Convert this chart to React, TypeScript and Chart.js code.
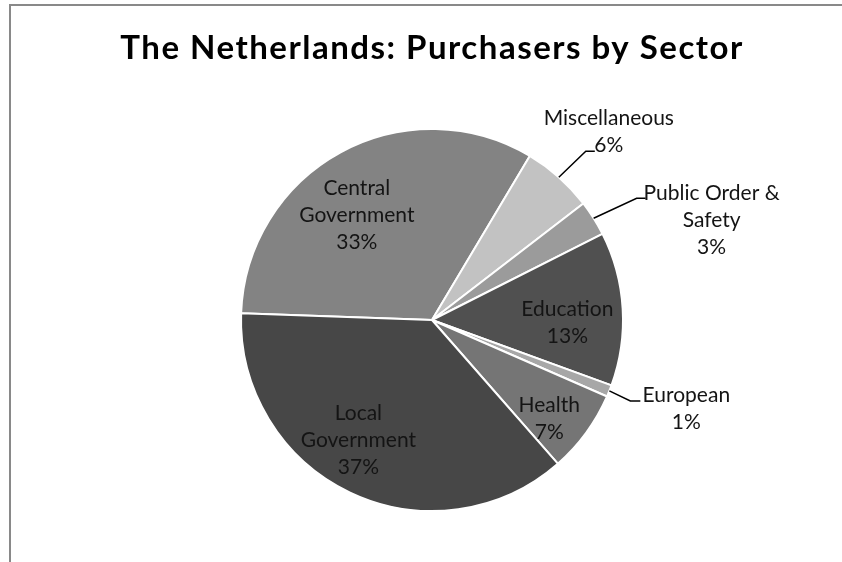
import React, { useEffect, useRef } from "react";
import { Chart, registerables } from "chart.js";

Chart.register(...registerables);

const TITLE = "The Netherlands: Purchasers by Sector";
const categories: string[][] = [
  ["Central", "Government"],
  ["Miscellaneous"],
  ["Public Order &", "Safety"],
  ["Education"],
  ["European"],
  ["Health"],
  ["Local", "Government"],
];
const shares = [33, 6, 3, 13, 1, 7, 37];
const sliceColors = ["#838383", "#c2c2c2", "#9b9b9b", "#505050", "#a7a7a7", "#757575", "#474747"];

// label placement styles (inside: radial fraction + nudge; outside: leader line geometry)
type Place =
  | { kind: "in"; r: number; dx: number; dy: number }
  | { kind: "out"; elbow: [number, number]; tail: number; text: [number, number]; lineStep: number };
const placements: Place[] = [
  { kind: "in", r: 0.68, dx: -13, dy: 9 },
  { kind: "out", elbow: [27, -26], tail: 9, text: [14, -33], lineStep: 27 },
  { kind: "out", elbow: [43, -20], tail: 9, text: [66, -5], lineStep: 27 },
  { kind: "in", r: 0.71, dx: 0, dy: 11 },
  { kind: "out", elbow: [21, 10], tail: 10, text: [46, -6], lineStep: 27 },
  { kind: "in", r: 0.78, dx: -3, dy: 11 },
  { kind: "in", r: 0.74, dx: -13, dy: -7 },
];

const LABEL_FONT = "21px Lato";
const TITLE_FONT = "bold 33px Lato";

const decorPlugin = {
  id: "decor",
  beforeDraw(chart: any) {
    const ctx = chart.ctx;
    ctx.save();
    ctx.fillStyle = "#ffffff";
    ctx.fillRect(0, 0, chart.width, chart.height);
    ctx.strokeStyle = "#898989";
    ctx.lineWidth = 2;
    ctx.beginPath();
    ctx.moveTo(10, chart.height);
    ctx.lineTo(10, 5);
    ctx.lineTo(chart.width, 5);
    ctx.stroke();
    ctx.restore();
  },
  afterDraw(chart: any) {
    const ctx = chart.ctx;
    ctx.save();
    // title
    ctx.fillStyle = "#000000";
    ctx.font = TITLE_FONT;
    ctx.textAlign = "center";
    ctx.textBaseline = "alphabetic";
    try {
      (ctx as any).letterSpacing = "1.5px";
    } catch (e) {}
    ctx.fillText(TITLE, 432, 59);
    try {
      (ctx as any).letterSpacing = "0px";
    } catch (e) {}

    const meta = chart.getDatasetMeta(0);
    const total = shares.reduce((a, b) => a + b, 0);
    ctx.font = LABEL_FONT;
    ctx.textBaseline = "middle";
    meta.data.forEach((arc: any, i: number) => {
      const p = arc.getProps(["x", "y", "startAngle", "endAngle", "outerRadius"], true);
      const mid = (p.startAngle + p.endAngle) / 2;
      const pct = Math.round((shares[i] / total) * 100) + "%";
      const lines = [...categories[i], pct];
      const pl = placements[i];
      ctx.fillStyle = "#141414";
      ctx.textAlign = "center";
      if (pl.kind === "in") {
        const cx = p.x + Math.cos(mid) * p.outerRadius * pl.r + pl.dx;
        const cy = p.y + Math.sin(mid) * p.outerRadius * pl.r + pl.dy;
        const step = 27;
        const y0 = cy - ((lines.length - 1) * step) / 2;
        lines.forEach((t, k) => ctx.fillText(t, cx, y0 + k * step));
      } else {
        const ex = p.x + Math.cos(mid) * p.outerRadius;
        const ey = p.y + Math.sin(mid) * p.outerRadius;
        const bx = ex + pl.elbow[0];
        const by = ey + pl.elbow[1];
        const tx = bx + pl.tail;
        ctx.strokeStyle = "#000000";
        ctx.lineWidth = 1.5;
        ctx.beginPath();
        ctx.moveTo(ex, ey);
        ctx.lineTo(bx, by);
        ctx.lineTo(tx, by);
        ctx.stroke();
        const cx = tx + pl.text[0];
        const y0 = by + pl.text[1];
        lines.forEach((t, k) => ctx.fillText(t, cx, y0 + k * pl.lineStep));
      }
    });
    ctx.restore();
  },
};

export default function App() {
  const ref = useRef<HTMLCanvasElement | null>(null);
  useEffect(() => {
    if (!ref.current) return;
    const chart = new Chart(ref.current, {
      type: "pie",
      data: {
        labels: categories.map((c) => c.join(" ")),
        datasets: [
          {
            data: shares,
            backgroundColor: sliceColors,
            borderColor: "#ffffff",
            borderWidth: 2,
            radius: 191,
          } as any,
        ],
      },
      options: {
        responsive: false,
        animation: false,
        rotation: 272,
        layout: { padding: { left: 22, top: 78, right: 0, bottom: 0 } },
        plugins: {
          legend: { display: false },
          tooltip: { enabled: false },
          title: { display: false },
        },
      },
      plugins: [decorPlugin],
    });
    return () => chart.destroy();
  }, []);
  return (
    <div style={{ position: "absolute", left: 0, top: 0, width: 842, height: 562 }}>
      <canvas ref={ref} width={842} height={562} style={{ width: 842, height: 562 }} />
    </div>
  );
}
